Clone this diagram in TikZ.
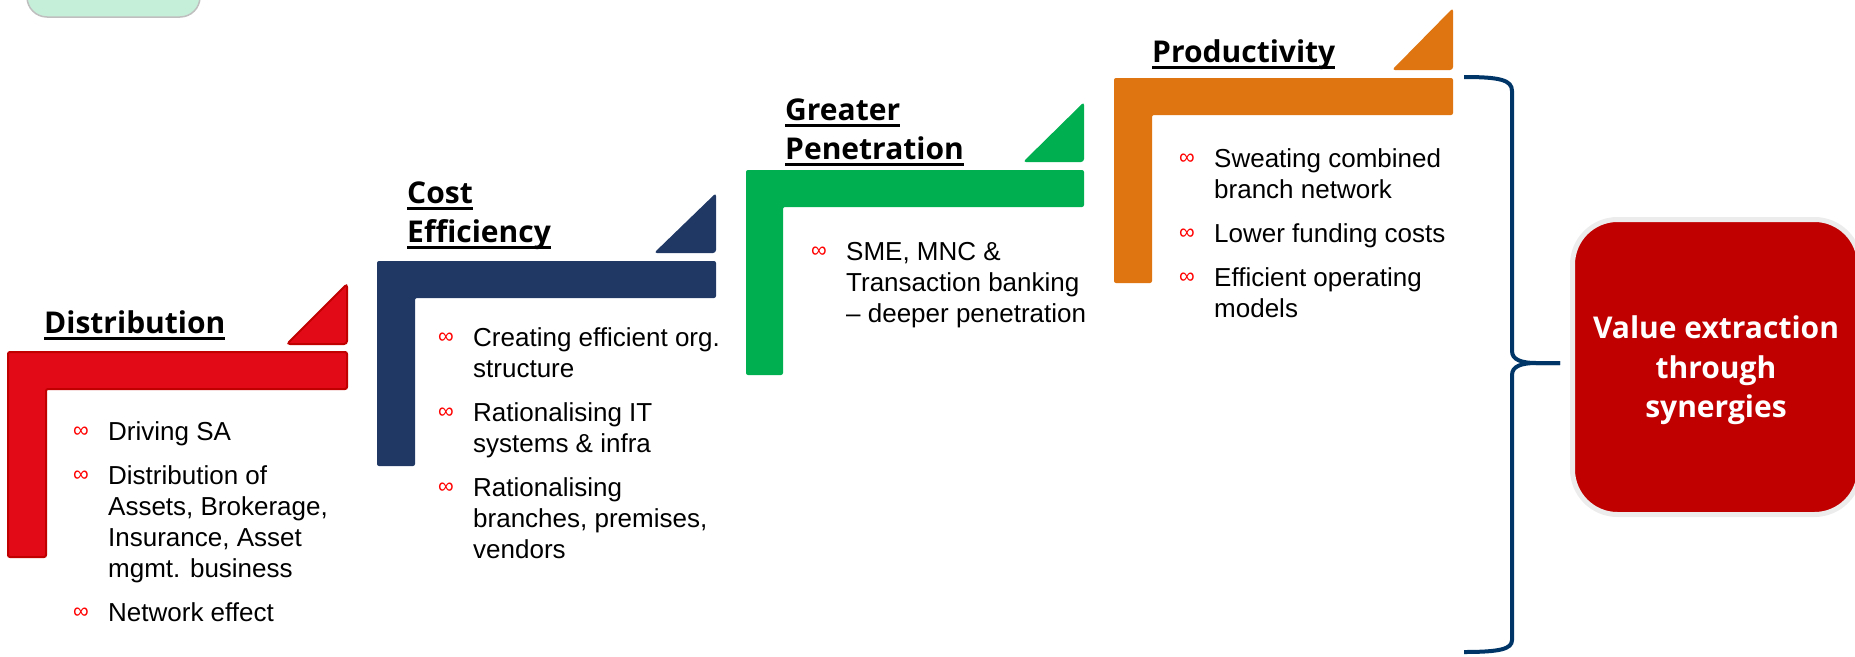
\documentclass[tikz,border=0pt]{standalone}
\usepackage{fontspec}
\setmainfont{Liberation Sans}
\newfontfamily\headfont{Open Sans}
\usepackage{tikz}
\usetikzlibrary{calc}
\usepackage{xcolor}
\definecolor{distcolor}{RGB}{227, 10, 23}
\definecolor{distedge}{RGB}{192, 0, 0}
\definecolor{costcolor}{RGB}{31, 56, 100}
\definecolor{penecolor}{RGB}{0, 176, 80}
\definecolor{prodcolor}{RGB}{222, 117, 16}
\definecolor{bracecolor}{RGB}{0, 53, 104}
\definecolor{valuecolor}{RGB}{192, 0, 0}
\definecolor{valueedge}{RGB}{236, 236, 236}
\definecolor{mintcolor}{RGB}{198, 239, 218}
\definecolor{bulletred}{RGB}{255, 0, 0}

\newcommand{\titleul}[1]{\setbox0\hbox{#1}\rlap{\rule[-7pt]{\wd0}{3pt}}\box0}
\newcommand{\bul}{\makebox[35pt][l]{\raisebox{3pt}{\fontsize{22}{22}\selectfont\textcolor{bulletred}{∞}}}}

\begin{document}
\begin{tikzpicture}[
    x=1pt, y=-1pt,
    stepbar/.style={rounded corners=2pt},
    steptri/.style={rounded corners=3pt},
    title/.style={anchor=base west, inner sep=0pt, font=\headfont\bfseries\fontsize{30}{39}\selectfont},
    bullets/.style={anchor=base west, inner sep=0pt, font=\fontsize{26}{31}\selectfont},
    valuebox/.style={rectangle, rounded corners=45pt, fill=valuecolor, draw=valueedge, line width=5pt,
        minimum width=287pt, minimum height=295pt, align=center, text=white, text depth=0pt,
        font=\headfont\bfseries\fontsize{30}{39.5}\selectfont},
    brace/.style={line width=4pt, draw=bracecolor}
]
    \useasboundingbox (0,0) rectangle (1855,656);

    % Top corner box
    \draw[fill=mintcolor, draw=black!25, line width=1.5pt, rounded corners=20pt] (27,-40) rectangle (200,17);

    % Steps
    \filldraw[stepbar, fill=distcolor, draw=distedge, line width=2pt]
        (8,352) -- (347,352) -- (347,389) -- (46,389) -- (46,557) -- (8,557) -- cycle;
    \filldraw[steptri, fill=distcolor, draw=distedge, line width=2pt] (287,344) -- (347,284) -- (347,344) -- cycle;

    \fill[stepbar, costcolor]
        (377,261) -- (716,261) -- (716,298) -- (415,298) -- (415,466) -- (377,466) -- cycle;
    \fill[steptri, costcolor] (654,253) -- (716,193) -- (716,253) -- cycle;

    \fill[stepbar, penecolor]
        (746,170) -- (1084,170) -- (1084,207) -- (783,207) -- (783,375) -- (746,375) -- cycle;
    \fill[steptri, penecolor] (1023,162) -- (1084,102) -- (1084,162) -- cycle;

    \fill[stepbar, prodcolor]
        (1114,78) -- (1453,78) -- (1453,115) -- (1152,115) -- (1152,283) -- (1114,283) -- cycle;
    \fill[steptri, prodcolor] (1392,70) -- (1453,8) -- (1453,70) -- cycle;

    % Titles
    \node[title] (disttitle) at (44,333) {\titleul{Distribution}};
    \node[title] (costtitle) at (407,203) {\begin{tabular}[t]{@{}l@{}}\titleul{Cost}\\ \titleul{Efficiency}\end{tabular}};
    \node[title] (penetitle) at (785,120) {\begin{tabular}[t]{@{}l@{}}\titleul{Greater}\\ \titleul{Penetration}\end{tabular}};
    \node[title] (prodtitle) at (1152,62) {\titleul{Productivity}};

    % Bullet lists
    \node[bullets] (distlist) at (73,440) {\begin{tabular}[t]{@{}l@{}l@{}}
        \bul & Driving SA\\[13pt]
        \bul & Distribution of\\
             & Assets, Brokerage,\\
             & Insurance, Asset\\
             & mgmt. business\\[13pt]
        \bul & Network effect
    \end{tabular}};

    \node[bullets] (costlist) at (438,346) {\begin{tabular}[t]{@{}l@{}l@{}}
        \bul & Creating efficient org.\\
             & structure\\[13pt]
        \bul & Rationalising IT\\
             & systems \& infra\\[13pt]
        \bul & Rationalising\\
             & branches, premises,\\
             & vendors
    \end{tabular}};

    \node[bullets] (penelist) at (811,260) {\begin{tabular}[t]{@{}l@{}l@{}}
        \bul & SME, MNC \&\\
             & Transaction banking\\
             & – deeper penetration
    \end{tabular}};

    \node[bullets] (prodlist) at (1179,167) {\begin{tabular}[t]{@{}l@{}l@{}}
        \bul & Sweating combined\\
             & branch network\\[13pt]
        \bul & Lower funding costs\\[13pt]
        \bul & Efficient operating\\
             & models
    \end{tabular}};

    % Result
    \node[valuebox] (value) at (1716,367) {Value extraction\\through\\synergies};

    % Brace
    \coordinate (bracetip) at ($(value.west)+(-10,-4)$);
    \draw[brace] (1464,77) .. controls (1500,77) and (1512,80) .. (1512,91) -- (1512,351)
        .. controls (1512,360) and (1522,363) .. (1536,363) -- (bracetip);
    \draw[brace] (bracetip) -- (1536,363) .. controls (1522,363) and (1512,366) .. (1512,375)
        -- (1512,640) .. controls (1512,649) and (1500,652) .. (1464,652);
\end{tikzpicture}
\end{document}
